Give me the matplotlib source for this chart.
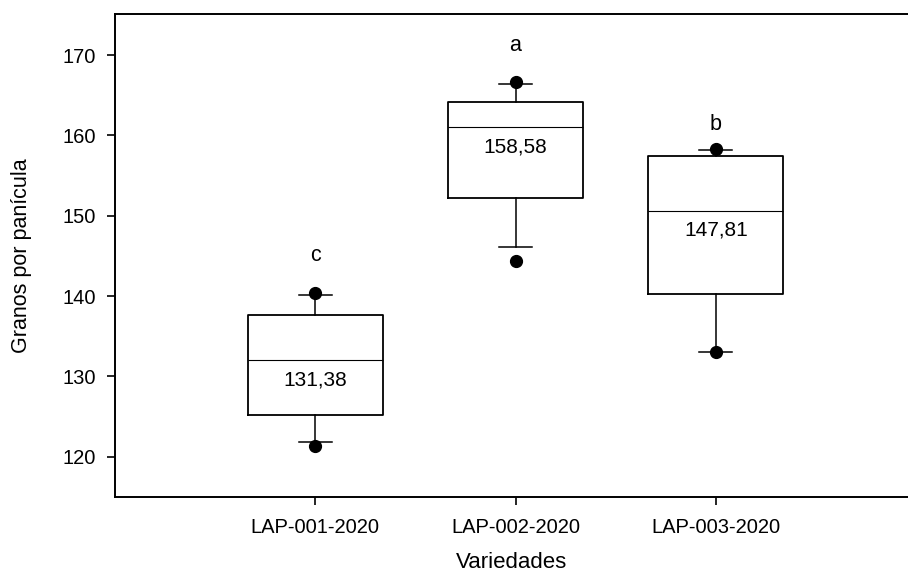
import matplotlib.pyplot as plt

plt.rcParams['font.family'] = ['Liberation Sans', 'DejaVu Sans']

# box statistics per variety
variedades = ['LAP-001-2020', 'LAP-002-2020', 'LAP-003-2020']
q1 = [125.2, 152.2, 140.25]
mediana = [132.0, 161.0, 150.6]
q3 = [137.7, 164.2, 157.4]
whis_lo = [121.8, 146.1, 133.1]
whis_hi = [140.1, 166.45, 158.2]
puntos_lo = [121.3, 144.4, 133.1]
puntos_hi = [140.4, 166.7, 158.3]

# means written inside the boxes and Tukey letters above them
medias = [131.38, 158.58, 147.81]
letras = ['c', 'a', 'b']
letras_y = [145.0, 171.2, 161.3]

stats = []
for i in range(3):
    stats.append({
        'med': mediana[i], 'q1': q1[i], 'q3': q3[i],
        'whislo': whis_lo[i], 'whishi': whis_hi[i],
        'fliers': [puntos_lo[i], puntos_hi[i]],
    })

fig = plt.figure(figsize=(9.08, 5.77), dpi=100)
ax = fig.add_axes([0.1267, 0.1386, 0.8733, 0.8371])

pos = [1, 2, 3]
ax.bxp(stats, positions=pos, widths=0.675, showfliers=True,
       boxprops=dict(color='black', linewidth=1.3),
       medianprops=dict(color='black', linewidth=0.8),
       whiskerprops=dict(color='black', linewidth=1.1),
       capprops=dict(color='black', linewidth=1.1),
       capwidths=0.165,
       flierprops=dict(marker='o', markerfacecolor='black', markeredgecolor='black',
                       markersize=8.5, linestyle='none'))

for i in range(3):
    ax.text(pos[i], mediana[i] - 2.4, f'{medias[i]:.2f}'.replace('.', ','),
            ha='center', va='center', fontsize=15)
    ax.text(pos[i], letras_y[i], letras[i], ha='center', va='center', fontsize=15.5)

ax.set_xlim(0, 3.96)
ax.set_ylim(115, 175.1)
ax.set_yticks([120, 130, 140, 150, 160, 170])
ax.set_xticks(pos)
ax.set_xticklabels(variedades)

ax.spines['right'].set_visible(False)
for s in ['left', 'top', 'bottom']:
    ax.spines[s].set_linewidth(1.4)
ax.tick_params(axis='both', direction='out', length=6, width=1.2, labelsize=14.5)
ax.tick_params(axis='y', pad=8)
ax.tick_params(axis='x', pad=9)

ax.set_xlabel('Variedades', fontsize=16, labelpad=11)
ax.set_ylabel('Granos por panícula', fontsize=15.5, labelpad=22)

fig.savefig('out.png', dpi=100)
